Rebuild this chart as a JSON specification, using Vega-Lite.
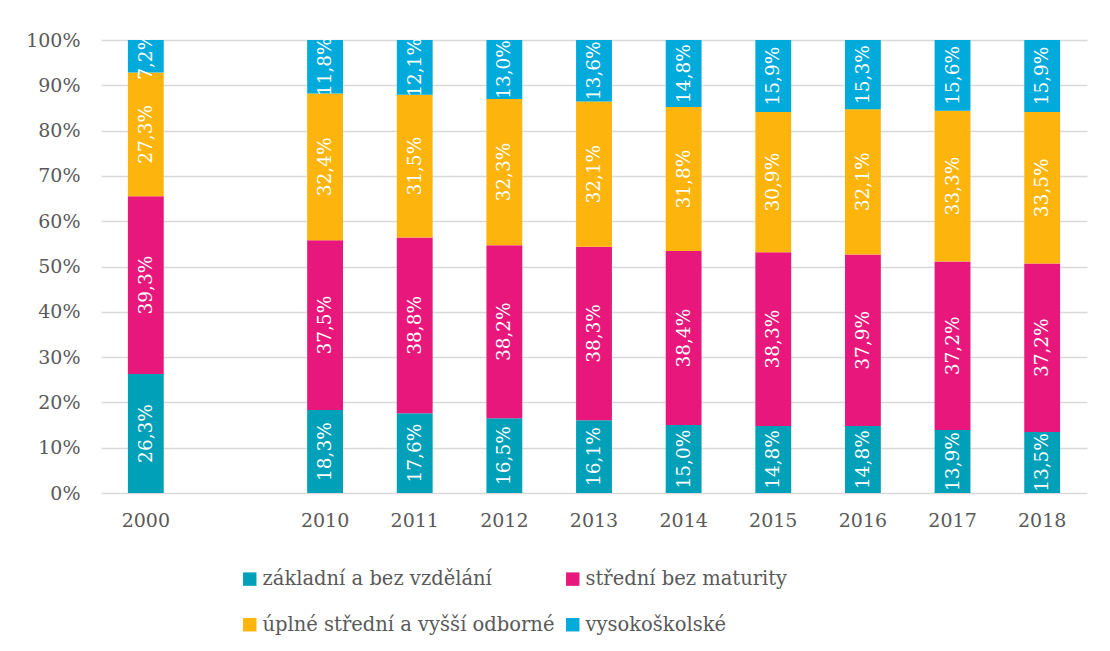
{
  "$schema": "https://vega.github.io/schema/vega-lite/v6.json",
  "width": 986,
  "height": 453,
  "autosize": {"type": "none"},
  "padding": {"left": 101, "top": 40, "right": 23, "bottom": 158},
  "config": {
    "locale": {"number": {"decimal": ",", "thousands": " ", "grouping": [3], "currency": ["", " Kč"]}},
    "font": "DejaVu Serif",
    "view": {"stroke": null},
    "axis": {"labelFont": "DejaVu Serif", "labelColor": "#595959", "labelFontSize": 19, "domain": false, "ticks": false, "title": null, "gridColor": "#d9d9d9", "gridWidth": 1.5}
  },
  "data": {
    "values": [
      {"year": "2000", "cat": "základní a bez vzdělání", "ord": 1, "v": 0.263},
      {"year": "2000", "cat": "střední bez maturity", "ord": 2, "v": 0.393},
      {"year": "2000", "cat": "úplné střední a vyšší odborné", "ord": 3, "v": 0.273},
      {"year": "2000", "cat": "vysokoškolské", "ord": 4, "v": 0.072},
      {"year": "2010", "cat": "základní a bez vzdělání", "ord": 1, "v": 0.183},
      {"year": "2010", "cat": "střední bez maturity", "ord": 2, "v": 0.375},
      {"year": "2010", "cat": "úplné střední a vyšší odborné", "ord": 3, "v": 0.324},
      {"year": "2010", "cat": "vysokoškolské", "ord": 4, "v": 0.118},
      {"year": "2011", "cat": "základní a bez vzdělání", "ord": 1, "v": 0.176},
      {"year": "2011", "cat": "střední bez maturity", "ord": 2, "v": 0.388},
      {"year": "2011", "cat": "úplné střední a vyšší odborné", "ord": 3, "v": 0.315},
      {"year": "2011", "cat": "vysokoškolské", "ord": 4, "v": 0.121},
      {"year": "2012", "cat": "základní a bez vzdělání", "ord": 1, "v": 0.165},
      {"year": "2012", "cat": "střední bez maturity", "ord": 2, "v": 0.382},
      {"year": "2012", "cat": "úplné střední a vyšší odborné", "ord": 3, "v": 0.323},
      {"year": "2012", "cat": "vysokoškolské", "ord": 4, "v": 0.130},
      {"year": "2013", "cat": "základní a bez vzdělání", "ord": 1, "v": 0.161},
      {"year": "2013", "cat": "střední bez maturity", "ord": 2, "v": 0.383},
      {"year": "2013", "cat": "úplné střední a vyšší odborné", "ord": 3, "v": 0.321},
      {"year": "2013", "cat": "vysokoškolské", "ord": 4, "v": 0.136},
      {"year": "2014", "cat": "základní a bez vzdělání", "ord": 1, "v": 0.150},
      {"year": "2014", "cat": "střední bez maturity", "ord": 2, "v": 0.384},
      {"year": "2014", "cat": "úplné střední a vyšší odborné", "ord": 3, "v": 0.318},
      {"year": "2014", "cat": "vysokoškolské", "ord": 4, "v": 0.148},
      {"year": "2015", "cat": "základní a bez vzdělání", "ord": 1, "v": 0.148},
      {"year": "2015", "cat": "střední bez maturity", "ord": 2, "v": 0.383},
      {"year": "2015", "cat": "úplné střední a vyšší odborné", "ord": 3, "v": 0.309},
      {"year": "2015", "cat": "vysokoškolské", "ord": 4, "v": 0.159},
      {"year": "2016", "cat": "základní a bez vzdělání", "ord": 1, "v": 0.148},
      {"year": "2016", "cat": "střední bez maturity", "ord": 2, "v": 0.379},
      {"year": "2016", "cat": "úplné střední a vyšší odborné", "ord": 3, "v": 0.321},
      {"year": "2016", "cat": "vysokoškolské", "ord": 4, "v": 0.153},
      {"year": "2017", "cat": "základní a bez vzdělání", "ord": 1, "v": 0.139},
      {"year": "2017", "cat": "střední bez maturity", "ord": 2, "v": 0.372},
      {"year": "2017", "cat": "úplné střední a vyšší odborné", "ord": 3, "v": 0.333},
      {"year": "2017", "cat": "vysokoškolské", "ord": 4, "v": 0.156},
      {"year": "2018", "cat": "základní a bez vzdělání", "ord": 1, "v": 0.135},
      {"year": "2018", "cat": "střední bez maturity", "ord": 2, "v": 0.372},
      {"year": "2018", "cat": "úplné střední a vyšší odborné", "ord": 3, "v": 0.335},
      {"year": "2018", "cat": "vysokoškolské", "ord": 4, "v": 0.159}
    ]
  },
  "transform": [
    {"stack": "v", "groupby": ["year"], "sort": [{"field": "ord", "order": "ascending"}], "offset": "normalize", "as": ["y0", "y1"]},
    {"calculate": "(datum.y0 + datum.y1) / 2", "as": "mid"}
  ],
  "encoding": {
    "x": {
      "field": "year", "type": "nominal",
      "scale": {"domain": ["2000", " ", "2010", "2011", "2012", "2013", "2014", "2015", "2016", "2017", "2018"], "paddingInner": 0.6, "paddingOuter": 0.3},
      "axis": {"labelAngle": 0, "labelPadding": 18, "grid": false}
    }
  },
  "layer": [
    {
      "mark": {"type": "bar"},
      "encoding": {
        "y": {"field": "y0", "type": "quantitative", "scale": {"domain": [0, 1]}, "axis": {"format": ".0%", "values": [0, 0.1, 0.2, 0.3, 0.4, 0.5, 0.6, 0.7, 0.8, 0.9, 1], "labelPadding": 21, "grid": true}},
        "y2": {"field": "y1"},
        "color": {
          "field": "cat", "type": "nominal",
          "scale": {"domain": ["základní a bez vzdělání", "střední bez maturity", "úplné střední a vyšší odborné", "vysokoškolské"], "range": ["#00A0B8", "#E8177B", "#FDB50E", "#00AADB"]},
          "legend": {"title": null, "orient": "none", "legendX": 139, "legendY": 529, "columns": 2, "direction": "horizontal", "symbolType": "square", "symbolSize": 180, "symbolStrokeWidth": 0, "labelFont": "DejaVu Serif", "labelFontSize": 19.5, "labelColor": "#595959", "labelLimit": 400, "rowPadding": 25, "columnPadding": 8, "symbolOffset": 0, "labelOffset": 3}
        },
        "order": {"field": "ord"}
      }
    },
    {
      "mark": {"type": "text", "angle": 270, "align": "center", "baseline": "middle", "color": "white", "fontSize": 18.5, "font": "DejaVu Serif"},
      "encoding": {
        "y": {"field": "mid", "type": "quantitative"},
        "text": {"field": "v", "type": "quantitative", "format": ".1%"}
      }
    }
  ]
}
